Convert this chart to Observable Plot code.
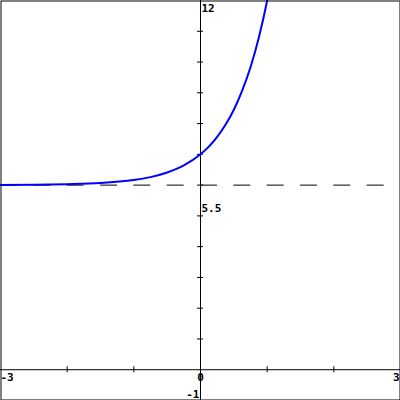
<!DOCTYPE html>
<html>
<head>
<meta charset="utf-8">
<script src="https://cdn.jsdelivr.net/npm/d3@7"></script>
<script src="https://cdn.jsdelivr.net/npm/@observablehq/plot@0.6"></script>
<style>
  html, body { margin: 0; padding: 0; background: #fff; }
  #chart svg { display: block; }
</style>
</head>
<body>
<div id="chart"></div>
<script>
// Curve samples
const curveX = [-3, -2.5, -2, -1.5, -1, -0.75, -0.5, -0.25, 0, 0.125, 0.25, 0.375, 0.5, 0.625, 0.75, 0.875, 1, 1.1];
const curveY = [6.00, 6.01, 6.03, 6.07, 6.17, 6.26, 6.41, 6.64, 7.00, 7.25, 7.57, 7.96, 8.45, 9.07, 9.83, 10.80, 12.00, 13.2];
// Asymptote
const asymptoteY = [6];
// Axis domains and ticks
const xDomain = [-3, 3];
const yDomain = [-1, 12];
const xTicks = [-2, -1, 1, 2];
const yTicks = [1, 2, 3, 4, 5, 6, 7, 8, 9, 10, 11];
// Tick labels
const topLabel = [{v: 12, t: "12"}, {v: 5.5, t: "5.5"}];
const bottomLabel = [{v: -1, t: "-1"}];
const xLabelLeft = [{v: -3, t: "-3"}];
const xLabelMid = [{v: 0, t: "0"}];
const xLabelRight = [{v: 3, t: "3"}];

const curve = curveX.map((x, i) => ({x, y: curveY[i]}));
const font = "DejaVu Sans Mono";

const chart = Plot.plot({
  width: 400,
  height: 400,
  margin: 0,
  x: {domain: xDomain, axis: null},
  y: {domain: yDomain, axis: null},
  style: {background: "#fff", fontFamily: font},
  marks: [
    Plot.ruleY(asymptoteY, {y: d => d, stroke: "black", strokeWidth: 1, strokeDasharray: "17,16.33"}),
    Plot.ruleX([0], {x: d => d, stroke: "black"}),
    Plot.ruleY([0], {y: d => d, stroke: "black"}),
    Plot.ruleX(xTicks, {x: d => d, y1: 0, y2: 0, insetTop: -3, insetBottom: -3, stroke: "black"}),
    Plot.ruleY(yTicks, {y: d => d, x1: 0, x2: 0, insetLeft: -3, insetRight: -3, stroke: "black"}),
    Plot.line(curve, {x: "x", y: "y", stroke: "#0000ff", strokeWidth: 2, curve: "monotone-x", clip: true}),
    Plot.text(topLabel, {x: 0, y: "v", text: "t", textAnchor: "start", dx: 1, dy: 7.5, fontSize: 11, fontWeight: "bold", fill: "black"}),
    Plot.text(bottomLabel, {x: 0, y: "v", text: "t", textAnchor: "end", dx: -1, dy: -6.5, fontSize: 11, fontWeight: "bold", fill: "black"}),
    Plot.text(xLabelLeft, {x: "v", y: 0, text: "t", textAnchor: "start", dx: 0, dy: 7.5, fontSize: 11, fontWeight: "bold", fill: "black"}),
    Plot.text(xLabelMid, {x: "v", y: 0, text: "t", textAnchor: "middle", dy: 7.5, fontSize: 11, fontWeight: "bold", fill: "black"}),
    Plot.text(xLabelRight, {x: "v", y: 0, text: "t", textAnchor: "end", dx: -1, dy: 7.5, fontSize: 11, fontWeight: "bold", fill: "black"}),
    Plot.frame({stroke: "black", inset: 0.5})
  ]
});
document.getElementById("chart").appendChild(chart);
</script>
</body>
</html>
